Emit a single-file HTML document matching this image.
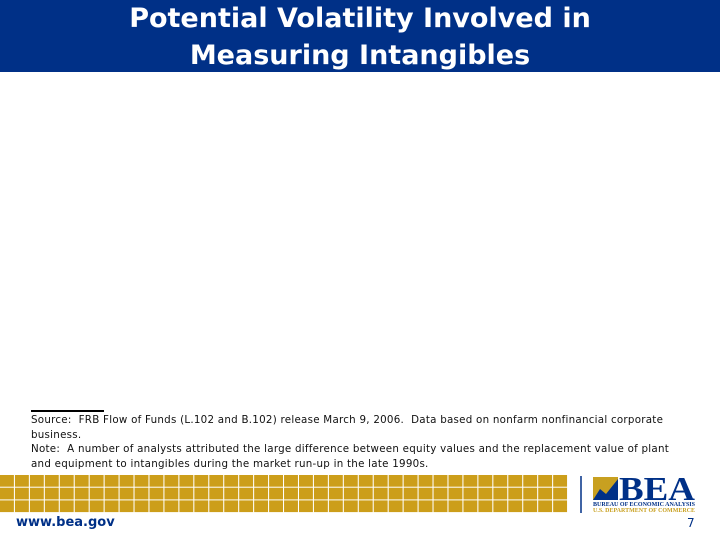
<!DOCTYPE html>
<html><head><meta charset="utf-8"><style>
body{margin:0;width:720px;height:540px;background:#fff;position:relative;overflow:hidden;font-family:"DejaVu Sans","Liberation Sans",sans-serif}
#title{position:absolute;left:0;top:0;width:720px;height:72px;background:#003087;color:#fff;text-align:center;font-size:27px;font-weight:bold;line-height:37px}
#notes{position:absolute;left:31px;top:413px;font-size:10.3px;line-height:14.5px;color:#111;white-space:nowrap;letter-spacing:0.25px}
#rule{position:absolute;left:31px;top:410px;width:73px;height:1.5px;background:#000}
#grid{position:absolute;left:0;top:475px}
</style></head><body>
<div id="title">Potential Volatility Involved in<br>Measuring Intangibles</div>
<div id="rule"></div>
<div id="notes">Source:&nbsp; FRB Flow of Funds (L.102 and B.102) release March 9, 2006.&nbsp; Data based on nonfarm nonfinancial corporate<br>business.<br>Note:&nbsp; A number of analysts attributed the large difference between equity values and the replacement value of plant<br>and equipment to intangibles during the market run-up in the late 1990s.</div>
<svg id="grid" width="720" height="45">
<g id="cells"></g>
<line x1="581" y1="1" x2="581" y2="38" stroke="#003087" stroke-width="1.5"/>
<rect x="593" y="2" width="25" height="23" fill="#c8a020"/>
<polygon points="593,25 600,14 606,19 618,4 618,25" fill="#003087"/>
<text x="619" y="25" font-family="Liberation Serif,serif" font-weight="bold" font-size="34" fill="#003087" textLength="76" lengthAdjust="spacingAndGlyphs">BEA</text>
<text x="593" y="31" font-family="Liberation Serif,serif" font-weight="bold" font-size="6" fill="#003087" textLength="102" lengthAdjust="spacingAndGlyphs">BUREAU OF ECONOMIC ANALYSIS</text>
<text x="593" y="37" font-family="Liberation Serif,serif" font-weight="bold" font-size="6" fill="#c8a020" textLength="102" lengthAdjust="spacingAndGlyphs">U.S. DEPARTMENT OF COMMERCE</text>
</svg>
<div style="position:absolute;left:16px;top:515px;font-size:13px;color:#003087;font-weight:bold">www.bea.gov</div>
<div style="position:absolute;left:687px;top:516px;font-size:12px;color:#003087">7</div>
<script>
var g=document.getElementById('cells');
for(var r=0;r<3;r++)for(var c=0;c<38;c++){
var e=document.createElementNS('http://www.w3.org/2000/svg','rect');


e.setAttribute('x',c*14.95);e.setAttribute('y',r*12.7);e.setAttribute('width',13.9);e.setAttribute('height',11.7);e.setAttribute('fill','#cc9e1a');
g.appendChild(e);}
</script>
</body></html>
